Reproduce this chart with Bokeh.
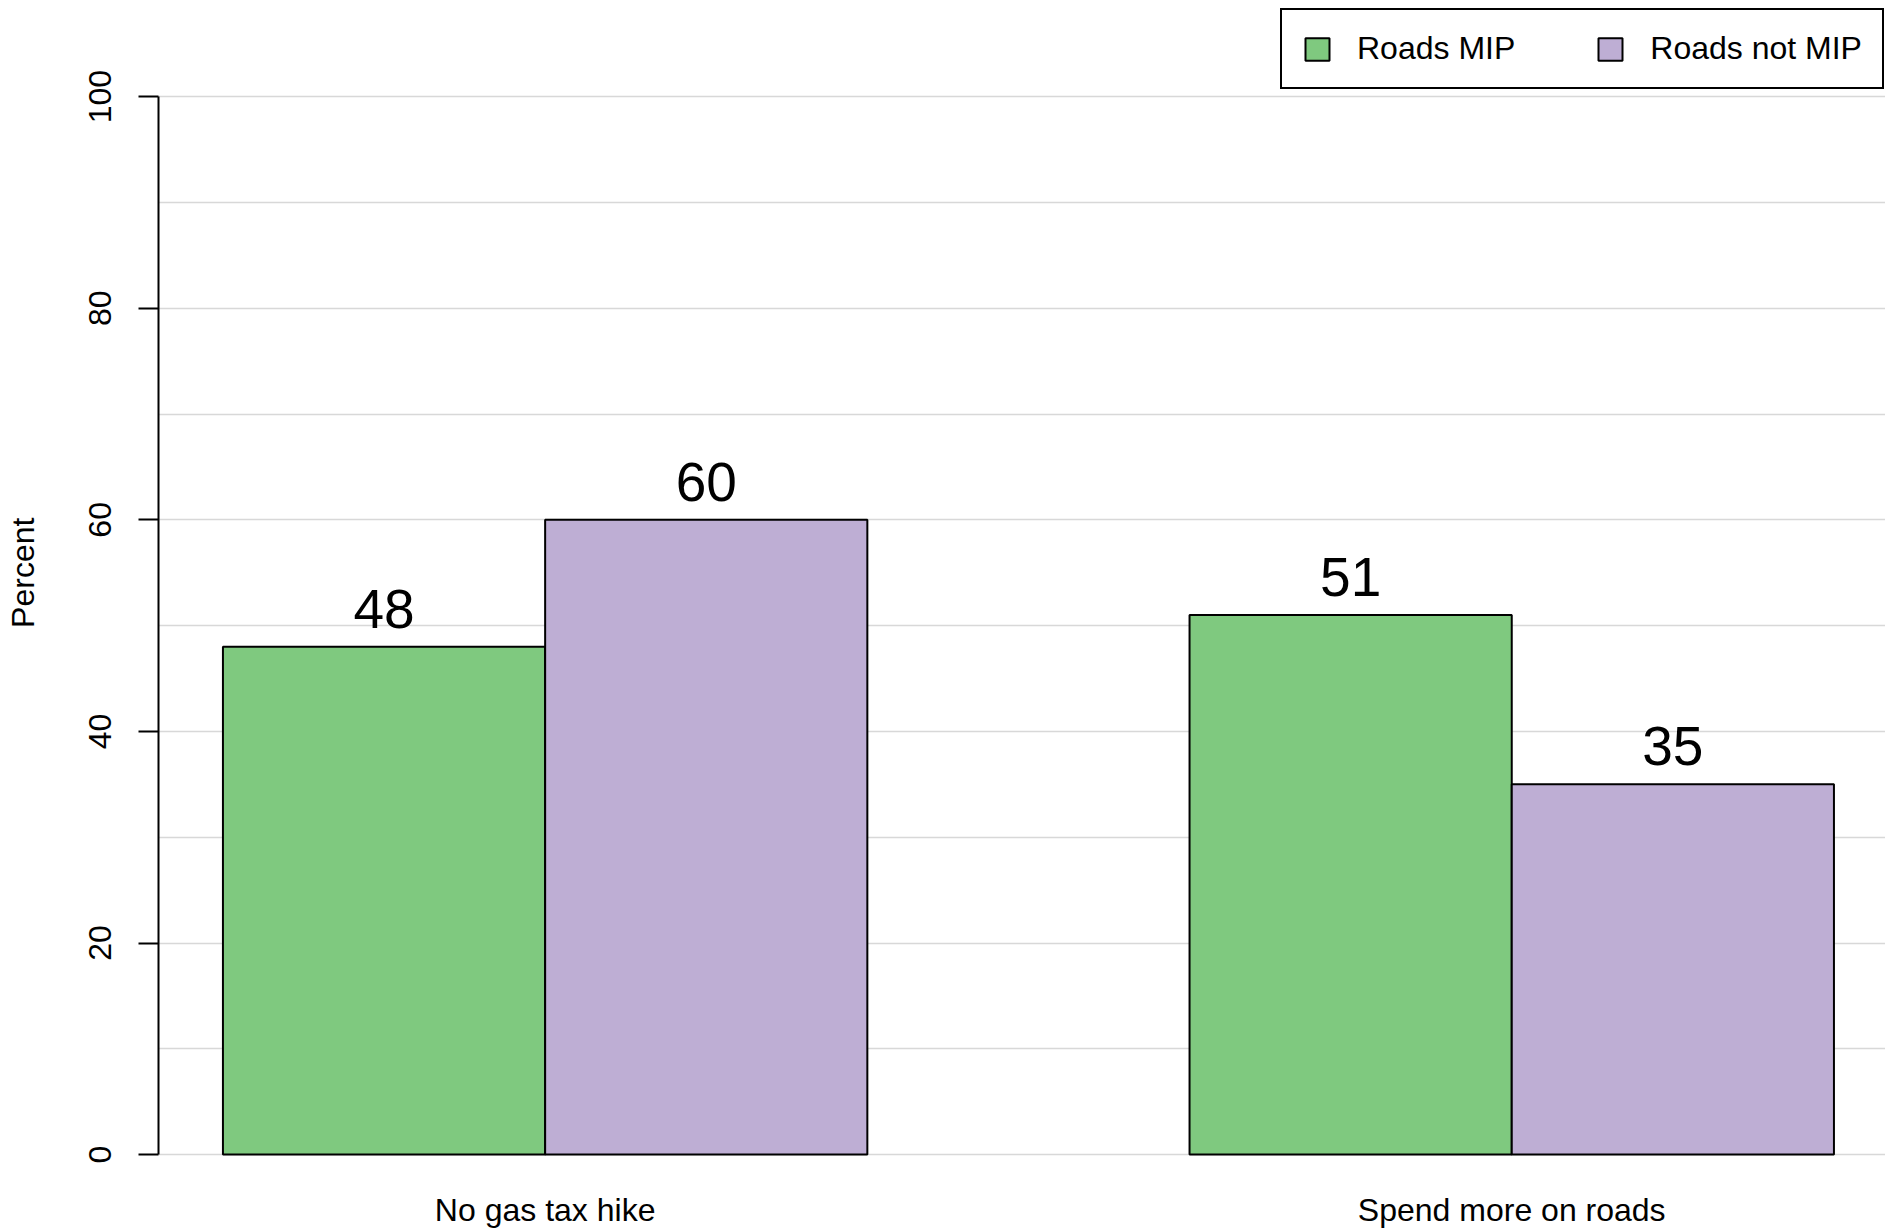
from bokeh.plotting import figure
from bokeh.models import (Range1d, FixedTicker, Legend, LegendItem, LinearAxis,
                          ColumnDataSource)
from bokeh.core.properties import value
from bokeh.embed import file_html
from bokeh.resources import INLINE

# ---- data ----
categories = ["No gas tax hike", "Spend more on roads"]
series_names = ["Roads MIP", "Roads not MIP"]
roads_mip = [48, 51]
roads_not_mip = [60, 35]
y_ticks = [0, 20, 40, 60, 80, 100]
grid_ticks = [0, 10, 20, 30, 40, 50, 60, 70, 80, 90, 100]
y_title = "Percent"
colors = ["#7FC97F", "#BEAED4"]

FONT = "Liberation Sans"

p = figure(width=1885, height=1230, output_backend="svg", toolbar_location=None,
           x_range=Range1d(0.8, 6.160), y_range=Range1d(-1.314, 109.09),
           min_border_left=158, min_border_right=0, min_border_top=0,
           min_border_bottom=62)
p.outline_line_color = None
p.background_fill_color = "white"

series_values = [roads_mip, roads_not_mip]
renderers = []
for j, (name, vals) in enumerate(zip(series_names, series_values)):
    xs = [1 + 3 * i + j + 0.5 for i in range(len(categories))]
    src = ColumnDataSource(dict(x=xs, top=vals, lab=[str(v) for v in vals]))
    r = p.vbar(x="x", top="top", bottom=0, width=1.0, source=src,
               fill_color=colors[j], line_color="black", line_width=2)
    renderers.append(r)
    p.text(x="x", y="top", text="lab", source=src, text_align="center",
           text_baseline="alphabetic", y_offset=-38,
           text_font=value(FONT), text_font_size="55px", text_color="black")

# grid
p.xgrid.visible = False
p.ygrid.ticker = FixedTicker(ticks=grid_ticks)
p.ygrid.grid_line_color = "#d8d8d8"
p.ygrid.grid_line_width = 1.5

# y axis
ya = p.yaxis[0]
ya.ticker = FixedTicker(ticks=y_ticks)
ya.bounds = (0, 100)
ya.major_tick_out = 20
ya.major_tick_in = 0
ya.minor_tick_line_color = None
ya.axis_line_width = 2
ya.major_tick_line_width = 2
ya.major_label_orientation = "vertical"
ya.major_label_text_font = FONT
ya.major_label_text_font_size = "32px"
ya.major_label_text_color = "black"
ya.major_label_standoff = 27

# outer axis carrying the y title, centred on the middle of the plot region (0..110)
title_pos = 55
ylab_axis = LinearAxis(ticker=FixedTicker(ticks=[title_pos]),
                       major_label_overrides={title_pos: y_title},
                       major_label_orientation="vertical",
                       axis_line_color=None, major_tick_line_color=None,
                       minor_tick_line_color=None, major_tick_out=0, major_tick_in=0,
                       major_label_standoff=45,
                       major_label_text_font=FONT, major_label_text_font_size="32px",
                       major_label_text_color="black")
p.add_layout(ylab_axis, "left")

# x axis
xa = p.xaxis[0]
centers = [1 + 3 * i + 1 for i in range(len(categories))]
xa.ticker = FixedTicker(ticks=centers)
xa.major_label_overrides = {c: lab for c, lab in zip(centers, categories)}
xa.axis_line_color = None
xa.major_tick_line_color = None
xa.minor_tick_line_color = None
xa.major_tick_out = 0
xa.major_tick_in = 0
xa.major_label_text_font = FONT
xa.major_label_text_font_size = "32px"
xa.major_label_text_color = "black"
xa.major_label_standoff = 23

legend = Legend(items=[LegendItem(label=n, renderers=[r]) for n, r in zip(series_names, renderers)],
                orientation="horizontal", location=(1122, 1079), margin=0,
                padding=20, spacing=80, label_standoff=25,
                glyph_width=30, glyph_height=28,
                label_text_font=FONT, label_text_font_size="32px",
                label_text_color="black",
                border_line_color="black", border_line_width=2, border_line_alpha=1.0,
                background_fill_color="white", background_fill_alpha=1.0)
p.add_layout(legend)

open("out.html", "w").write(file_html(p, INLINE))
